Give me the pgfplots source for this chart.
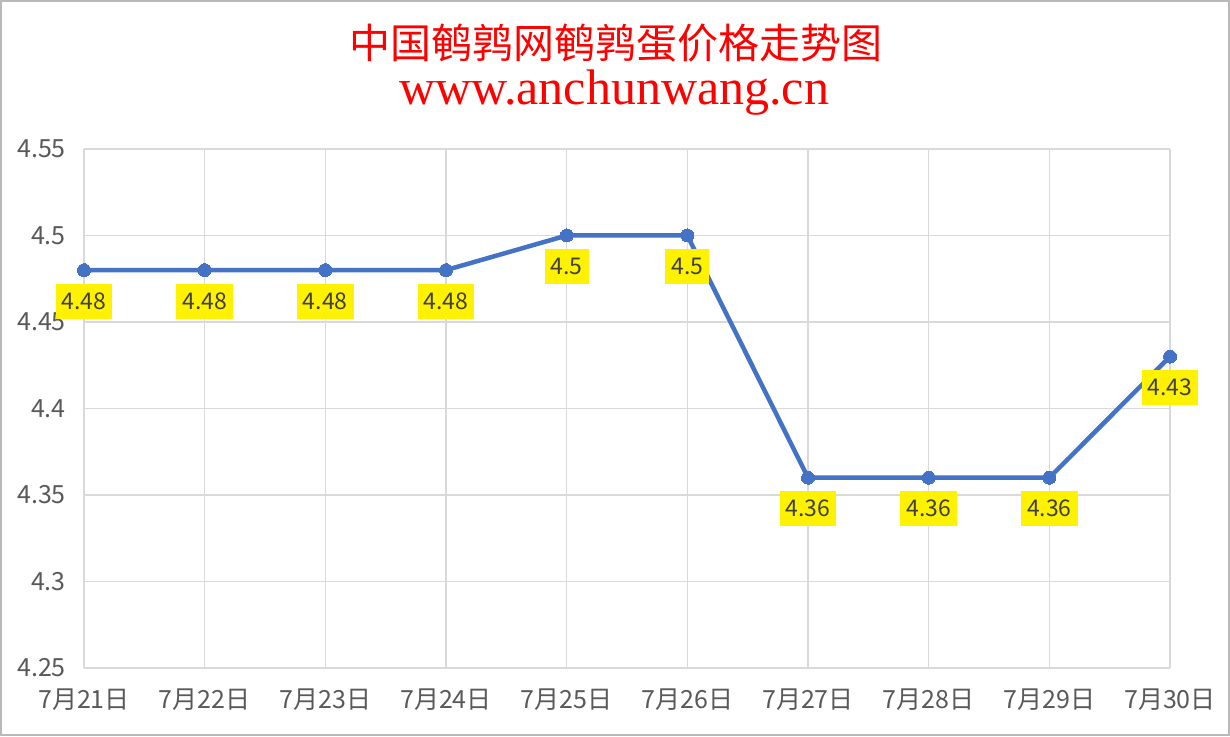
\documentclass[border=0pt]{standalone}
\usepackage{fontspec}
\usepackage{pgfplots}
\pgfplotsset{compat=1.18}
\setmainfont{Noto Sans CJK SC}
\newfontfamily\urlfont{Liberation Serif}
\definecolor{lineblue}{HTML}{4472C4}
\definecolor{gridgray}{HTML}{D9D9D9}
\definecolor{ticktext}{HTML}{595959}
\definecolor{labeltext}{HTML}{404040}

\begin{document}
\begin{tikzpicture}[x=1pt,y=1pt]
  \useasboundingbox (0,0) rectangle (1230,736);
  \fill[white] (0,0) rectangle (1230,736);
  \draw[color=gray!55, line width=2pt] (1,1) rectangle (1229,735);

  \node[text=red, font=\fontsize{41}{45}\selectfont] at (616,693) {中国鹌鹑网鹌鹑蛋价格走势图};
  \node[text=red, font=\urlfont\fontsize{50}{54}\selectfont] at (614,643) {www.anchunwang.cn};

  \begin{axis}[
      at={(84pt,68pt)}, anchor=origin,
      scale only axis,
      width=1086pt, height=519pt,
      xmin=0, xmax=9,
      ymin=4.25, ymax=4.55,
      xtick={0,...,9},
      xticklabels={7月21日,7月22日,7月23日,7月24日,7月25日,7月26日,7月27日,7月28日,7月29日,7月30日},
      ytick={4.25,4.3,4.35,4.4,4.45,4.5,4.55},
      yticklabels={4.25,4.3,4.35,4.4,4.45,4.5,4.55},
      xmajorgrids, ymajorgrids,
      grid style={color=gridgray, line width=1.3pt},
      axis line style={draw=none},
      major tick style={draw=none},
      xticklabel style={font=\fontsize{25}{29}\selectfont, text=ticktext, anchor=center, yshift=-32pt},
      yticklabel style={font=\fontsize{25}{29}\selectfont, text=ticktext, anchor=east, inner sep=0pt, xshift=-18pt},
      clip=false,
      point meta=explicit symbolic,
      nodes near coords,
      nodes near coords style={anchor=center, yshift=-31pt, fill=yellow, text=labeltext,
        font=\fontsize{23}{27}\selectfont, inner xsep=6pt, minimum height=35pt},
    ]
    \addplot[color=lineblue, line width=4.5pt, mark=*, mark size=6.5pt,
      mark options={fill=lineblue, draw=lineblue, line width=0pt}]
      coordinates {
        (0,4.48) [4.48]
        (1,4.48) [4.48]
        (2,4.48) [4.48]
        (3,4.48) [4.48]
        (4,4.50) [4.5]
        (5,4.50) [4.5]
        (6,4.36) [4.36]
        (7,4.36) [4.36]
        (8,4.36) [4.36]
        (9,4.43) [4.43]
      };
  \end{axis}
\end{tikzpicture}
\end{document}
